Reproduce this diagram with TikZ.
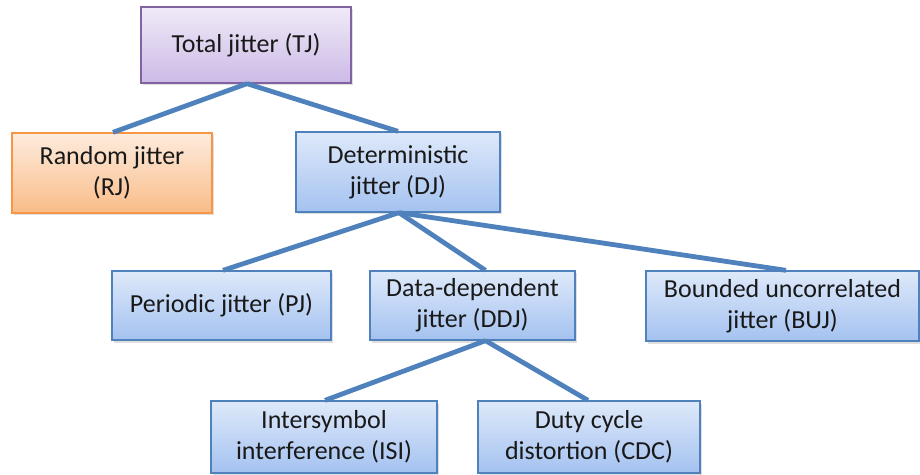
\documentclass[tikz,border=0pt]{standalone}
\usepackage{fontspec}
\setmainfont{Carlito}
\usetikzlibrary{shadows,calc}
\definecolor{linkblue}{RGB}{79,129,189}
\definecolor{purpline}{RGB}{128,100,162}
\definecolor{purptop}{RGB}{240,234,248}
\definecolor{purpbot}{RGB}{204,186,230}
\definecolor{orline}{RGB}{247,150,70}
\definecolor{ortop}{RGB}{253,236,222}
\definecolor{orbot}{RGB}{250,188,136}
\definecolor{blline}{RGB}{79,129,189}
\definecolor{bltop}{RGB}{222,233,250}
\definecolor{blbot}{RGB}{164,194,240}
\begin{document}
\begin{tikzpicture}[x=1pt,y=1pt,
  box/.style={rectangle, line width=1.3pt, align=center, inner sep=0pt,
    font=\fontsize{26}{31}\selectfont, text=black!90,
    drop shadow={shadow xshift=2pt, shadow yshift=-2.5pt, opacity=0.25}},
  purpbox/.style={box, draw=purpline, top color=purptop, bottom color=purpbot},
  orbox/.style={box, draw=orline, top color=ortop, bottom color=orbot},
  blbox/.style={box, draw=blline, top color=bltop, bottom color=blbot},
  link/.style={draw=linkblue, line width=4.8pt}]
\useasboundingbox (0,0) rectangle (920,474);
\node[purpbox, minimum width=210pt, minimum height=76pt] (tj) at (246,429) {Total jitter (TJ)};
\node[orbox, minimum width=200pt, minimum height=80pt] (rj) at (112,301) {Random jitter\\(RJ)};
\node[blbox, minimum width=204pt, minimum height=80pt] (dj) at (398,302) {Deterministic\\jitter (DJ)};
\node[blbox, minimum width=219pt, minimum height=69pt] (pj) at (221.5,168.5) {Periodic jitter (PJ)};
\node[blbox, minimum width=205pt, minimum height=69pt] (ddj) at (472.5,168.5) {Data-dependent\\jitter (DDJ)};
\node[blbox, minimum width=273pt, minimum height=70pt] (buj) at (782.5,168) {Bounded uncorrelated\\jitter (BUJ)};
\node[blbox, minimum width=226pt, minimum height=72pt] (isi) at (324,37) {Intersymbol\\interference (ISI)};
\node[blbox, minimum width=222pt, minimum height=72pt] (cdc) at (589,37) {Duty cycle\\distortion (CDC)};
\begin{scope}[link]
\draw ([xshift=1pt]tj.south) -- ([xshift=1pt]rj.north);
\draw ([xshift=1pt]tj.south) -- (dj.north);
\draw ([xshift=1pt]dj.south) -- ([xshift=1.5pt]pj.north);
\draw ([xshift=1pt]dj.south) -- ([xshift=13pt]ddj.north);
\draw ([xshift=1pt]dj.south) -- ([xshift=3.5pt]buj.north);
\draw ([xshift=13pt]ddj.south) -- ([xshift=1pt]isi.north);
\draw ([xshift=13pt]ddj.south) -- ([xshift=-1pt]cdc.north);
\end{scope}
\end{tikzpicture}
\end{document}
